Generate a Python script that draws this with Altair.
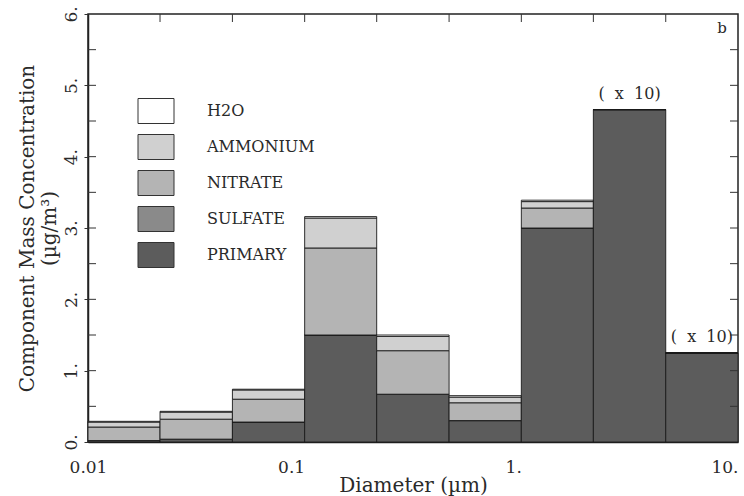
import altair as alt
import pandas as pd

# Size bins (µm), three per decade
bin_lo = [0.01, 0.0215, 0.0464, 0.1, 0.215, 0.464, 1.0, 2.15, 4.64]
bin_hi = [0.0215, 0.0464, 0.1, 0.215, 0.464, 1.0, 2.15, 4.64, 10.0]

# Component mass concentrations (µg/m³) per bin
primary = [0.02, 0.04, 0.28, 1.50, 0.67, 0.30, 3.00, 4.66, 1.25]
sulfate = [0.0, 0.0, 0.0, 0.0, 0.0, 0.0, 0.0, 0.0, 0.0]
nitrate = [0.19, 0.28, 0.32, 1.22, 0.61, 0.25, 0.28, 0.0, 0.0]
ammonium = [0.07, 0.10, 0.13, 0.42, 0.20, 0.08, 0.09, 0.0, 0.0]
h2o = [0.01, 0.01, 0.01, 0.02, 0.02, 0.02, 0.02, 0.0, 0.0]

legend_names = ["H2O", "AMMONIUM", "NITRATE", "SULFATE", "PRIMARY"]
legend_colors = ["#ffffff", "#d0d0d0", "#b4b4b4", "#8a8a8a", "#5c5c5c"]

# Bins whose values are scaled by ten
scaled_lo = [2.15, 4.64]
scaled_hi = [4.64, 10.0]
scaled_total = [4.66, 1.25]
scaled_text = ["(\u00a0\u00a0x\u00a0\u00a010)", "(\u00a0\u00a0x\u00a0\u00a010)"]

y_ticks = [0, 1, 2, 3, 4, 5, 6]
half_ticks = [0.5, 1, 1.5, 2, 2.5, 3, 3.5, 4, 4.5, 5, 5.5]
x_labels = [0.01, 0.1, 1, 10]

FONT = "DejaVu Serif"
INK = "#2a2a2a"

stack_order = {"PRIMARY": 0, "SULFATE": 1, "NITRATE": 2, "AMMONIUM": 3, "H2O": 4}
series = {"PRIMARY": primary, "SULFATE": sulfate, "NITRATE": nitrate,
          "AMMONIUM": ammonium, "H2O": h2o}
rows = []
for i in range(len(bin_lo)):
    for name, vals in series.items():
        rows.append({"lo": bin_lo[i], "hi": bin_hi[i], "comp": name,
                     "value": vals[i], "order": stack_order[name]})
df = pd.DataFrame(rows)

xscale = alt.Scale(type="log", domain=[0.01, 10], nice=False)
yscale = alt.Scale(domain=[0, 6], nice=False, zero=True)

bars = alt.Chart(df).transform_stack(
    stack="value", groupby=["lo"], as_=["y0", "y1"],
    sort=[alt.SortField("order", order="ascending")],
).mark_rect(stroke="#1a1a1a", strokeWidth=0.9).encode(
    x=alt.X("lo:Q", scale=xscale, title="Diameter (µm)",
            axis=alt.Axis(values=x_labels, ticks=False, grid=False,
                          labelExpr="datum.value == 1 ? '1.' : datum.value == 10 ? '10.' : datum.label",
                          labelAlign={"condition": {"test": "datum.value <= 0.01", "value": "center"},
                                      "value": "right"},
                          labelPadding=17, titlePadding=0, format="g")),
    x2="hi:Q",
    y=alt.Y("y0:Q", scale=yscale,
            title=["Component Mass Concentration", "(µg/m³)"],
            axis=alt.Axis(values=y_ticks, labelExpr="datum.value + '.'", grid=False,
                          labelAngle=270, labelAlign="center", labelBaseline="bottom",
                          labelPadding=4, tickSize=4, titlePadding=3)),
    y2="y1:Q",
    color=alt.Color("comp:N", scale=alt.Scale(domain=legend_names, range=legend_colors),
                    legend=alt.Legend(orient="none", legendX=55, legendY=84, title=None,
                                      symbolType="M-1.44,-1H1.44V1H-1.44Z", symbolSize=625,
                                      symbolStrokeColor="#333333", symbolStrokeWidth=1,
                                      symbolOpacity=1, labelFont=FONT, labelFontSize=16,
                                      labelColor=INK, labelOffset=38, rowPadding=6)),
)

ann = alt.Chart(pd.DataFrame({"lo": scaled_lo, "hi": scaled_hi, "total": scaled_total,
                              "txt": scaled_text})).transform_calculate(
    mid="sqrt(datum.lo * datum.hi)"
).mark_text(font=FONT, fontSize=16, color=INK, dy=-16).encode(
    x=alt.X("mid:Q", scale=xscale), y=alt.Y("total:Q", scale=yscale), text="txt:N")

panel = alt.Chart(pd.DataFrame({"t": ["b"]})).mark_text(
    font=FONT, fontSize=15, color=INK, dx=-16, dy=14
).encode(x=alt.datum(10, scale=xscale), y=alt.datum(6, scale=yscale), text="t:N")

# inward ticks on left and right frame edges
half_df = pd.DataFrame({"v": half_ticks})
left_ticks = alt.Chart(half_df).mark_rule(color="#333333", strokeWidth=1, x2Offset=8).encode(
    x=alt.datum(0.01, scale=xscale), x2=alt.datum(0.01), y=alt.Y("v:Q", scale=yscale))
right_ticks = alt.Chart(half_df).mark_rule(color="#333333", strokeWidth=1, x2Offset=-8).encode(
    x=alt.datum(10, scale=xscale), x2=alt.datum(10), y=alt.Y("v:Q", scale=yscale))
# inward ticks along the top edge at the bin boundaries
top_ticks = alt.Chart(pd.DataFrame({"e": bin_hi[:-1]})).mark_rule(
    color="#333333", strokeWidth=1, y2Offset=8
).encode(x=alt.X("e:Q", scale=xscale), y=alt.datum(6, scale=yscale), y2=alt.datum(6))

chart = alt.layer(bars, left_ticks, right_ticks, top_ticks, ann, panel).properties(
    width=650, height=428,
    autosize=alt.AutoSizeParams(type="none"),
    padding={"left": 88, "top": 14, "right": 6, "bottom": 54},
    background="white",
).configure_view(stroke="#222222", strokeWidth=1.5).configure_axis(
    domainColor="#222222", domainWidth=1.5, tickColor="#333333",
    labelFont=FONT, labelFontSize=17, labelColor=INK,
    titleFont=FONT, titleFontSize=20, titleColor=INK, titleFontWeight="normal",
)

chart.save("out.html", embed_options={"renderer": "svg", "actions": False})
